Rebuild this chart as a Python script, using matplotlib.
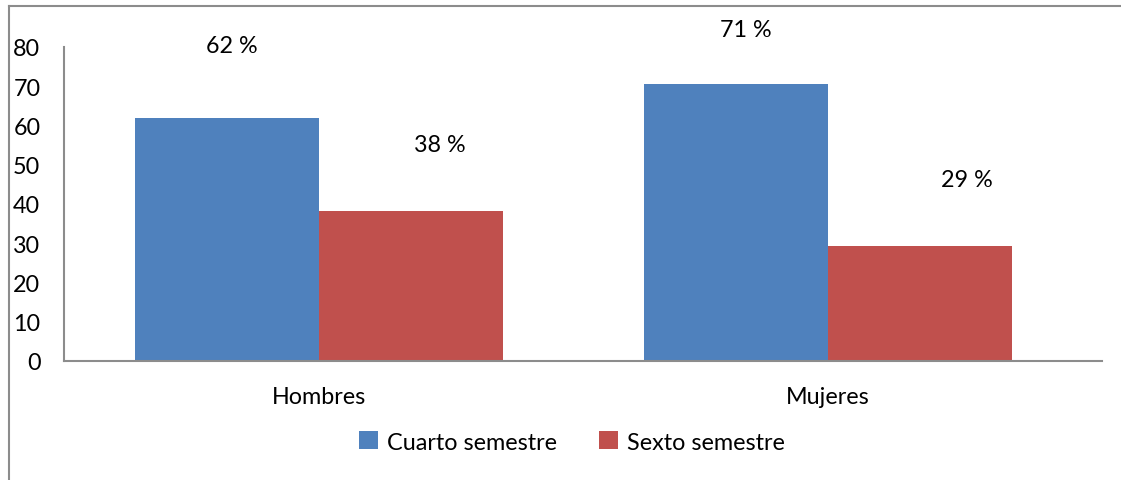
import matplotlib
matplotlib.use("Agg")
import matplotlib.pyplot as plt
import numpy as np
from matplotlib.lines import Line2D

# datos
categorias = ["Hombres", "Mujeres"]
cuarto = [61.8, 70.6]
sexto = [38.2, 29.4]
etiquetas_cuarto = ["62 %", "71 %"]
etiquetas_sexto = ["38 %", "29 %"]

plt.rcParams['font.family'] = ['Lato', 'DejaVu Sans']
plt.rcParams['font.size'] = 16.8

azul = '#4F81BD'
rojo = '#C0504D'
gris = '#8c8c8c'

fig = plt.figure(figsize=(11.21, 4.81), dpi=100)
ax = fig.add_axes([64/1121, 1 - 362/481, (1102 - 64)/1121, (362 - 48)/481])

x = np.arange(len(categorias))
ancho = 0.362
b1 = ax.bar(x - ancho/2, cuarto, width=ancho, color=azul, label='Cuarto semestre')
b2 = ax.bar(x + ancho/2, sexto, width=ancho, color=rojo, label='Sexto semestre')

# etiquetas desplazadas (como en el original)
desp_cuarto = [(5, 73), (10, 54)]
desp_sexto = [(29, 67), (47, 66)]
for rect, txt, (dx, dy) in zip(b1, etiquetas_cuarto, desp_cuarto):
    ax.annotate(txt, (rect.get_x() + rect.get_width()/2, rect.get_height()),
                xytext=(dx*0.72, dy*0.72), textcoords='offset points',
                ha='center', va='center', annotation_clip=False)
for rect, txt, (dx, dy) in zip(b2, etiquetas_sexto, desp_sexto):
    ax.annotate(txt, (rect.get_x() + rect.get_width()/2, rect.get_height()),
                xytext=(dx*0.72, dy*0.72), textcoords='offset points',
                ha='center', va='center', annotation_clip=False)

ax.set_ylim(0, 80)
ax.set_yticks(range(0, 81, 10))
ax.set_xlim(-0.501, 1.538)
ax.set_xticks(x)
ax.set_xticklabels(categorias)
ax.tick_params(axis='y', length=0, pad=17)
ax.tick_params(axis='x', length=0, pad=18)

for s in ['top', 'right']:
    ax.spines[s].set_visible(False)
for s in ['left', 'bottom']:
    ax.spines[s].set_color(gris)
    ax.spines[s].set_linewidth(1.5)

fig.legend(handles=[b1, b2], loc='center', bbox_to_anchor=(572/1121, 1 - 443/481),
           ncol=2, frameon=False, handlelength=0.8, handleheight=0.8,
           handletextpad=0.4, columnspacing=1.8)

# borde del área del gráfico
fig.add_artist(Line2D([9/1121, 9/1121], [0, 1 - 7/481], color=gris, lw=1.5))
fig.add_artist(Line2D([9/1121, 1], [1 - 7/481, 1 - 7/481], color=gris, lw=1.5))

fig.savefig('out.png', dpi=100)
